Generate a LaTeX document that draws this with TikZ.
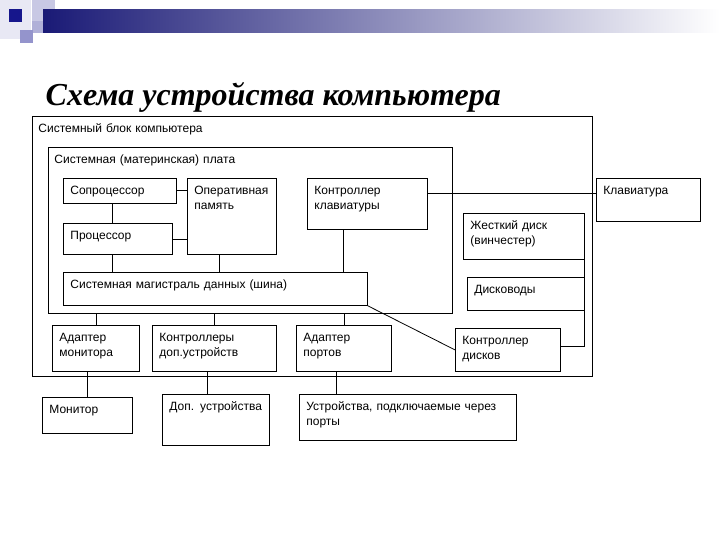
\documentclass[tikz,border=0pt]{standalone}
\usepackage{fontspec}
\setmainfont{Liberation Sans}
\newfontfamily\titlefont{Liberation Serif}
\definecolor{navy}{RGB}{26,26,118}
\definecolor{lavpale}{RGB}{232,232,244}
\definecolor{lavlight}{RGB}{200,200,228}
\definecolor{lavmid}{RGB}{176,176,216}
\definecolor{lavdark}{RGB}{148,148,204}
\definecolor{blueknot}{RGB}{22,22,140}
\begin{document}
\begin{tikzpicture}[x=1pt,y=-1pt,line width=0.8pt,
        font=\fontsize{12}{15}\selectfont,
        box/.style 2 args={draw,anchor=north west,align=left,inner xsep=7pt,
            inner ysep=0pt,text height=16pt,text width=#1,text depth=#2}]
            \useasboundingbox (0,0) rectangle (720,540);
            \fill[white] (0,0) rectangle (720,540);

            % header decoration
            \fill[lavpale] (0,0) rectangle (31,39);
            \fill[lavlight] (32,0) rectangle (55,21);
            \fill[lavmid] (32,21) rectangle (43,33);
            \fill[lavdark] (20,30) rectangle (33,43);
            \fill[blueknot] (9,9) rectangle (22,22);
            \shade[left color=navy,right color=white,draw=none] (43,10) rectangle (720,33);

            \node[anchor=base west,font=\titlefont\bfseries\itshape\fontsize{32}{38}\selectfont]
                (T) at (42,106) {Схема устройства компьютера};

            % containers
            \node[box={548pt}{244pt},inner xsep=6pt] (SB) at (32,116) {Системный блок компьютера};
            \node[box={392pt}{150pt},inner xsep=6pt] (MB) at (48,147) {Системная (материнская) плата};

            % boards
            \node[box={99pt}{9pt}] (CP) at (63,178) {Сопроцессор};
            \node[box={75pt}{60pt}] (RAM) at (187,178) {Оперативная\\память};
            \node[box={95pt}{15pt}] (CPU) at (63,223) {Процессор};
            \node[box={106pt}{35pt}] (KC) at (307,178) {Контроллер\\клавиатуры};
            \node[box={90pt}{27pt}] (KB) at (596,178) {Клавиатура};
            \node[box={290pt}{17pt}] (BUS) at (63,272) {Системная магистраль данных (шина)};
            \node[box={107pt}{30pt}] (HDD) at (463,213) {Жесткий диск\\(винчестер)};
            \node[box={103pt}{17pt}] (FDD) at (467,277) {Дисководы};
            \node[box={91pt}{27pt}] (DC) at (455,328) {Контроллер\\дисков};

            \node[box={73pt}{30pt}] (AM) at (52,325) {Адаптер\\монитора};
            \node[box={110pt}{30pt}] (AD) at (152,325) {Контроллеры\\доп.устройств};
            \node[box={81pt}{30pt}] (AP) at (296,325) {Адаптер\\портов};

            \node[box={76pt}{20pt}] (MON) at (42,397) {Монитор};
            \node[box={93pt}{35pt}] (DEV) at (162,394) {Доп. устройства};
            \node[box={203pt}{30pt}] (PDEV) at (299,394) {Устройства, подключаемые через\\порты};

            % links
            \draw (CP.east) -- (CP.east -| RAM.west);
            \draw (CPU.east) -- (CPU.east -| RAM.west);
            \draw ([xshift=49pt]CP.south west) -- ([xshift=49pt]CP.south west |- CPU.north);
            \draw ([xshift=49pt]CPU.south west) -- ([xshift=49pt]CPU.south west |- BUS.north);
            \draw ([xshift=32pt]RAM.south west) -- ([xshift=32pt]RAM.south west |- BUS.north);
            \draw ([xshift=36pt]KC.south west) -- ([xshift=36pt]KC.south west |- BUS.north);
            \draw ([yshift=-15pt]KC.north east) -- ([yshift=-15pt]KC.north east -| KB.west);
            \draw ([yshift=-18pt]DC.north east) -| (HDD.south east);
            \draw (BUS.south east) -- (DC.west);

            \draw (AM.north) -- (AM.north |- MB.south);
            \draw (AD.north) -- (AD.north |- MB.south);
            \draw (AP.north) -- (AP.north |- MB.south);
            \draw (MON.north) -- (MON.north |- AM.south);
            \draw ([xshift=45pt]DEV.north west) -- ([xshift=45pt]DEV.north west |- AD.south);
            \draw ([xshift=37pt]PDEV.north west) -- ([xshift=37pt]PDEV.north west |- AP.south);
\end{tikzpicture}
\end{document}
